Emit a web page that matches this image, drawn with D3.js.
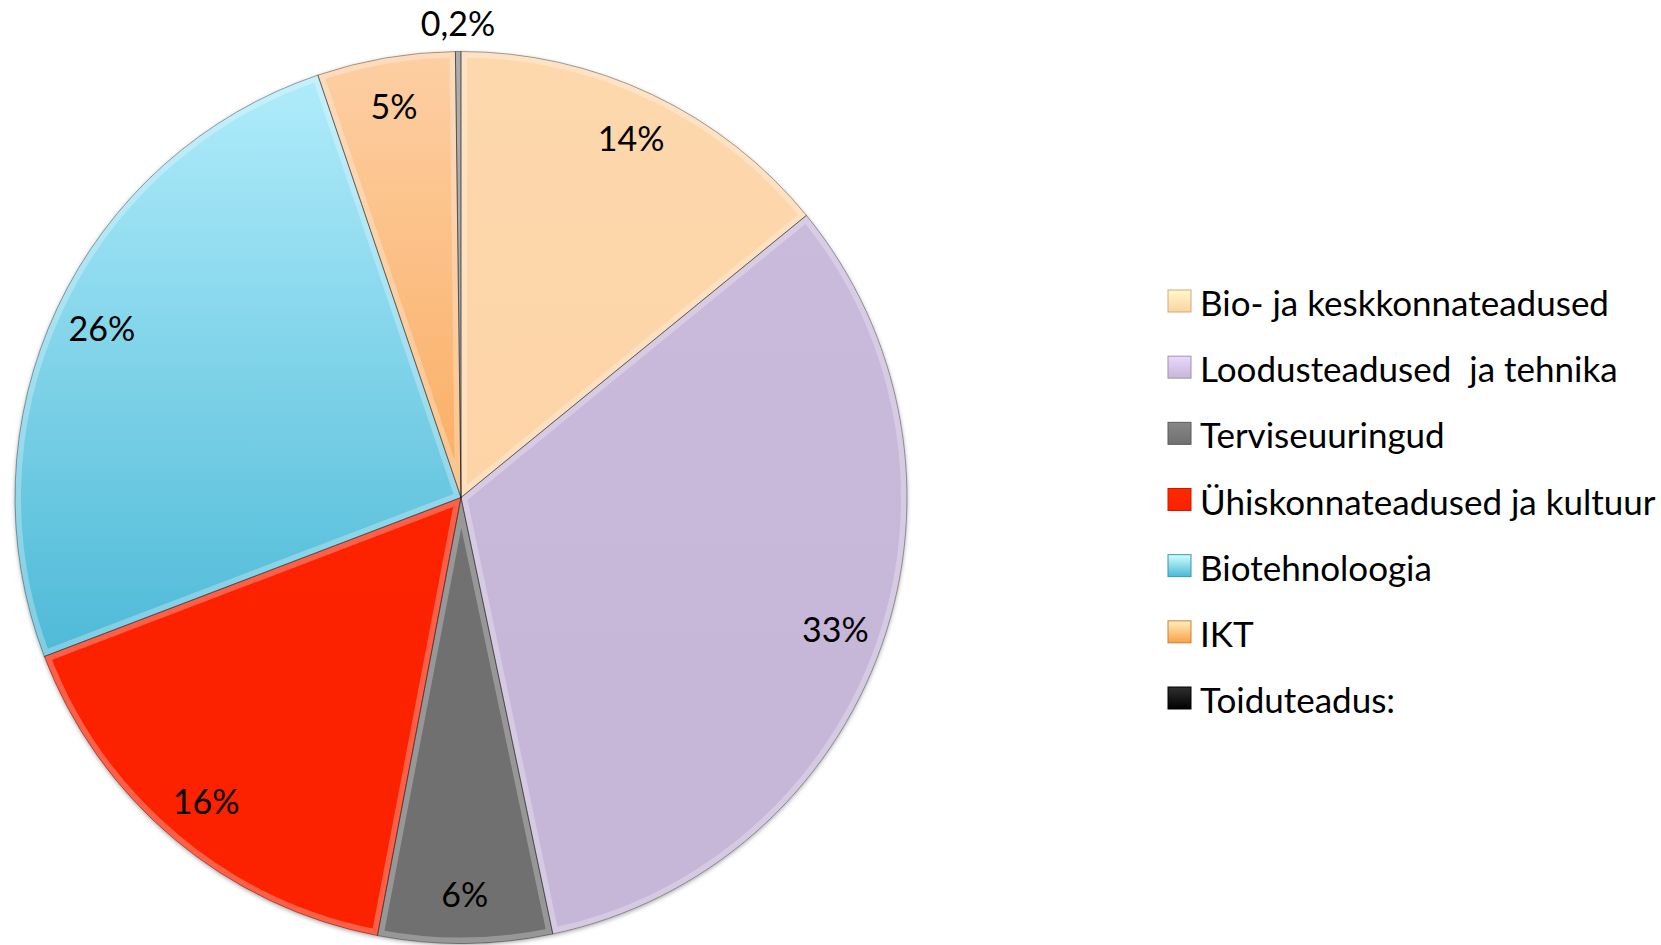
<!DOCTYPE html>
<html lang="et">
<meta charset="utf-8">
<script src="https://d3js.org/d3.v7.min.js"></script>
<style>
  body { margin: 0; background: #fff; }
  text { font-family: Lato, "Open Sans", sans-serif; fill: #000; }
</style>
<div id="my_dataviz"></div>
<script>

// data (share of total, %)
var categories = ["Bio- ja keskkonnateadused", "Loodusteadused  ja tehnika", "Terviseuuringud",
                  "Ühiskonnateadused ja kultuur", "Biotehnoloogia", "IKT", "Toiduteadus:"];
var values = [14.1, 32.6, 6.3, 16.2, 25.6, 5.0, 0.2];
var colorsTop = ["#fdd8ad", "#cbbbdd", "#757575", "#ff2400", "#b4eefc", "#fdcfa4", "#2a2a2a"];
var colorsBottom = ["#fcd2a3", "#c6b6d8", "#707070", "#fc2000", "#4bb8d6", "#f9a047", "#000000"];

var width = 1661, height = 945;
var cx = 461, cy = 497.5, radius = 446;

var svg = d3.select("#my_dataviz")
  .append("svg")
    .attr("width", width)
    .attr("height", height);

var defs = svg.append("defs");

// soft shadow around the pie
var shadow = defs.append("filter").attr("id", "shadow")
    .attr("x", "-10%").attr("y", "-10%").attr("width", "120%").attr("height", "120%");
shadow.append("feDropShadow")
    .attr("dx", 0).attr("dy", 1.5).attr("stdDeviation", 2)
    .attr("flood-color", "#000").attr("flood-opacity", 0.35);

// vertical gradients over the whole pie box
categories.forEach(function(c, i) {
  var g = defs.append("linearGradient").attr("id", "grad" + i)
      .attr("gradientUnits", "userSpaceOnUse")
      .attr("x1", 0).attr("y1", -radius).attr("x2", 0).attr("y2", radius * 0.4);
  g.append("stop").attr("offset", "0%").attr("stop-color", colorsTop[i]);
  g.append("stop").attr("offset", "100%").attr("stop-color", colorsBottom[i]);
  var lg = defs.append("linearGradient").attr("id", "lgrad" + i)
      .attr("x1", 0).attr("y1", 0).attr("x2", 0).attr("y2", 1);
  lg.append("stop").attr("offset", "0%").attr("stop-color", d3.color(colorsTop[i]).brighter(0.4));
  lg.append("stop").attr("offset", "100%").attr("stop-color", colorsBottom[i]);
});

var pie = d3.pie().sort(null).value(function(d) { return d; });
var arcs = pie(values);
var total = d3.sum(values);

var arc = d3.arc().innerRadius(0).outerRadius(radius);
var labelArc = d3.arc().innerRadius(radius * 0.89).outerRadius(radius * 0.89);
var outerLabelArc = d3.arc().innerRadius(radius + 28).outerRadius(radius + 28);

var isTiny = function(d) { return d.value / total < 0.01; };

var g = svg.append("g").attr("transform", "translate(" + cx + "," + cy + ")");

// clip paths so the bevel highlight stays inside each slice
arcs.forEach(function(d, i) {
  defs.append("clipPath").attr("id", "clip" + i)
    .append("path").attr("d", arc(d));
});

var slices = g.append("g").attr("filter", "url(#shadow)");
slices.selectAll("path")
  .data(arcs)
  .enter()
  .append("path")
    .attr("d", arc)
    // a hairline slice is washed out by the bevel in the original
    .attr("fill", function(d, i) { return isTiny(d) ? "#8c8c8c" : "url(#grad" + i + ")"; });

// bevel: light inner edge and a thin dark outline
g.append("g").selectAll("path")
  .data(arcs)
  .enter()
  .append("path")
    .attr("d", arc)
    .attr("clip-path", function(d, i) { return "url(#clip" + i + ")"; })
    .attr("fill", "none")
    .attr("stroke", "#fff")
    .attr("stroke-opacity", 0.28)
    .attr("stroke-width", 12);

g.append("g").selectAll("path")
  .data(arcs)
  .enter()
  .append("path")
    .attr("d", arc)
    .attr("fill", "none")
    .attr("stroke", "#000")
    .attr("stroke-opacity", 0.35)
    .attr("stroke-width", 1);

// percentage labels
var pctFormat = function(v) {
  var p = v / total * 100;
  return p < 1 ? d3.format(".1f")(p).replace(".", ",") + "%" : Math.round(p) + "%";
};

g.selectAll(".label")
  .data(arcs)
  .enter()
  .append("text")
    .attr("class", "label")
    .attr("transform", function(d) {
      return "translate(" + (isTiny(d) ? outerLabelArc : labelArc).centroid(d) + ")";
    })
    .attr("text-anchor", "middle")
    .attr("dy", "0.36em")
    .style("font-size", "34px")
    .text(function(d) { return pctFormat(d.value); });

// legend
var legendY = d3.scalePoint()
  .domain(categories)
  .range([316, 713]);

var legend = svg.append("g");
var rows = legend.selectAll("g")
  .data(categories)
  .enter()
  .append("g")
    .attr("transform", function(d) { return "translate(1168," + legendY(d) + ")"; });

rows.append("rect")
    .attr("x", 0)
    .attr("y", -26)
    .attr("width", 23)
    .attr("height", 22)
    .attr("fill", function(d, i) { return "url(#lgrad" + i + ")"; })
    .attr("stroke", function(d, i) { return d3.color(colorsBottom[i]).darker(0.6); })
    .attr("stroke-width", 1);

rows.append("text")
    .attr("x", 32)
    .attr("y", 0)
    .style("font-size", "35px")
    .style("white-space", "pre")
    .text(function(d) { return d; });

</script>
</html>
